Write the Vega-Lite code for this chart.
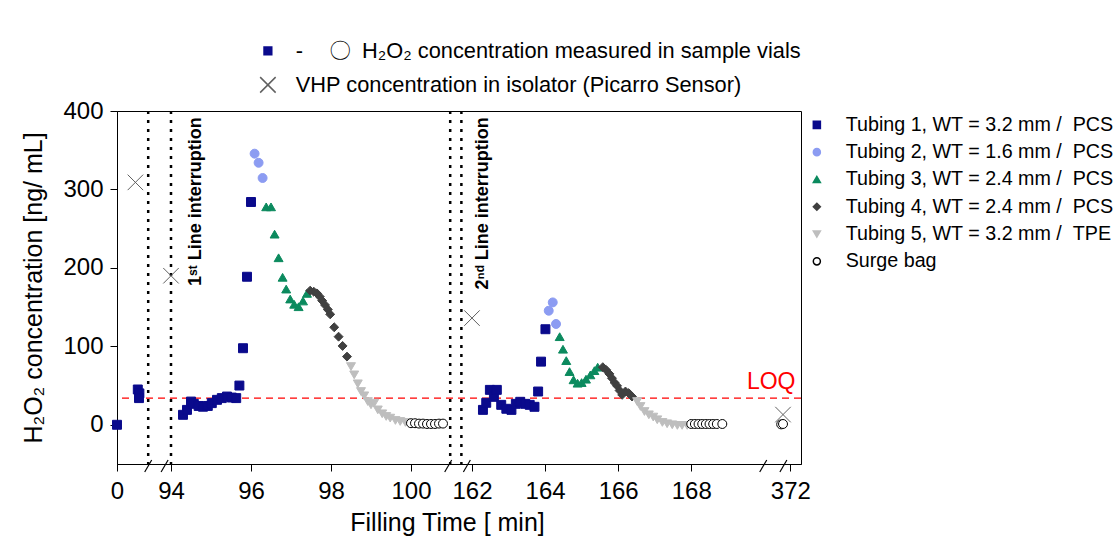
{
  "$schema": "https://vega.github.io/schema/vega-lite/v6.json",
  "width": 684,
  "height": 353,
  "autosize": {"type": "none"},
  "padding": {"left": 117, "top": 111, "right": 315, "bottom": 96},
  "background": "white",
  "config": {
    "font": "Liberation Sans",
    "view": {"stroke": "black", "strokeWidth": 1},
    "axis": {"domainColor": "black", "tickColor": "black", "labelColor": "black", "titleColor": "black", "grid": false, "titleFontWeight": "normal"}
  },
  "datasets": {
    "pts": [
      {"t": 0, "v": 0, "s": "Tubing 1, WT = 3.2 mm / \u00a0PCS"},
      {"t": 0.52, "v": 45, "s": "Tubing 1, WT = 3.2 mm / \u00a0PCS"},
      {"t": 0.56, "v": 40, "s": "Tubing 1, WT = 3.2 mm / \u00a0PCS"},
      {"t": 0.55, "v": 34, "s": "Tubing 1, WT = 3.2 mm / \u00a0PCS"},
      {"t": 94.3, "v": 12.7, "s": "Tubing 1, WT = 3.2 mm / \u00a0PCS"},
      {"t": 94.4, "v": 19, "s": "Tubing 1, WT = 3.2 mm / \u00a0PCS"},
      {"t": 94.5, "v": 29.6, "s": "Tubing 1, WT = 3.2 mm / \u00a0PCS"},
      {"t": 94.57, "v": 26.7, "s": "Tubing 1, WT = 3.2 mm / \u00a0PCS"},
      {"t": 94.69, "v": 24, "s": "Tubing 1, WT = 3.2 mm / \u00a0PCS"},
      {"t": 94.8, "v": 23, "s": "Tubing 1, WT = 3.2 mm / \u00a0PCS"},
      {"t": 94.92, "v": 24, "s": "Tubing 1, WT = 3.2 mm / \u00a0PCS"},
      {"t": 95.02, "v": 27.6, "s": "Tubing 1, WT = 3.2 mm / \u00a0PCS"},
      {"t": 95.15, "v": 31.8, "s": "Tubing 1, WT = 3.2 mm / \u00a0PCS"},
      {"t": 95.27, "v": 34, "s": "Tubing 1, WT = 3.2 mm / \u00a0PCS"},
      {"t": 95.4, "v": 36, "s": "Tubing 1, WT = 3.2 mm / \u00a0PCS"},
      {"t": 95.52, "v": 34.7, "s": "Tubing 1, WT = 3.2 mm / \u00a0PCS"},
      {"t": 95.63, "v": 34, "s": "Tubing 1, WT = 3.2 mm / \u00a0PCS"},
      {"t": 95.71, "v": 50, "s": "Tubing 1, WT = 3.2 mm / \u00a0PCS"},
      {"t": 95.8, "v": 97.6, "s": "Tubing 1, WT = 3.2 mm / \u00a0PCS"},
      {"t": 95.9, "v": 188.7, "s": "Tubing 1, WT = 3.2 mm / \u00a0PCS"},
      {"t": 96.0, "v": 284, "s": "Tubing 1, WT = 3.2 mm / \u00a0PCS"},
      {"t": 162.3, "v": 19, "s": "Tubing 1, WT = 3.2 mm / \u00a0PCS"},
      {"t": 162.39, "v": 28, "s": "Tubing 1, WT = 3.2 mm / \u00a0PCS"},
      {"t": 162.49, "v": 44.5, "s": "Tubing 1, WT = 3.2 mm / \u00a0PCS"},
      {"t": 162.6, "v": 35.6, "s": "Tubing 1, WT = 3.2 mm / \u00a0PCS"},
      {"t": 162.68, "v": 44.5, "s": "Tubing 1, WT = 3.2 mm / \u00a0PCS"},
      {"t": 162.8, "v": 25.4, "s": "Tubing 1, WT = 3.2 mm / \u00a0PCS"},
      {"t": 162.94, "v": 20.4, "s": "Tubing 1, WT = 3.2 mm / \u00a0PCS"},
      {"t": 163.08, "v": 19, "s": "Tubing 1, WT = 3.2 mm / \u00a0PCS"},
      {"t": 163.2, "v": 26.7, "s": "Tubing 1, WT = 3.2 mm / \u00a0PCS"},
      {"t": 163.32, "v": 29.3, "s": "Tubing 1, WT = 3.2 mm / \u00a0PCS"},
      {"t": 163.46, "v": 26.7, "s": "Tubing 1, WT = 3.2 mm / \u00a0PCS"},
      {"t": 163.58, "v": 25.4, "s": "Tubing 1, WT = 3.2 mm / \u00a0PCS"},
      {"t": 163.71, "v": 22.9, "s": "Tubing 1, WT = 3.2 mm / \u00a0PCS"},
      {"t": 163.81, "v": 42.4, "s": "Tubing 1, WT = 3.2 mm / \u00a0PCS"},
      {"t": 163.89, "v": 80.5, "s": "Tubing 1, WT = 3.2 mm / \u00a0PCS"},
      {"t": 164.01, "v": 121.8, "s": "Tubing 1, WT = 3.2 mm / \u00a0PCS"},
      {"t": 96.09, "v": 345.6, "s": "Tubing 2, WT = 1.6 mm / \u00a0PCS"},
      {"t": 96.19, "v": 334, "s": "Tubing 2, WT = 1.6 mm / \u00a0PCS"},
      {"t": 96.29, "v": 314.6, "s": "Tubing 2, WT = 1.6 mm / \u00a0PCS"},
      {"t": 164.1, "v": 145.4, "s": "Tubing 2, WT = 1.6 mm / \u00a0PCS"},
      {"t": 164.21, "v": 156, "s": "Tubing 2, WT = 1.6 mm / \u00a0PCS"},
      {"t": 164.3, "v": 128.5, "s": "Tubing 2, WT = 1.6 mm / \u00a0PCS"},
      {"t": 96.38, "v": 277.8, "s": "Tubing 3, WT = 2.4 mm / \u00a0PCS"},
      {"t": 96.5, "v": 277.8, "s": "Tubing 3, WT = 2.4 mm / \u00a0PCS"},
      {"t": 96.59, "v": 243, "s": "Tubing 3, WT = 2.4 mm / \u00a0PCS"},
      {"t": 96.69, "v": 212.9, "s": "Tubing 3, WT = 2.4 mm / \u00a0PCS"},
      {"t": 96.79, "v": 188, "s": "Tubing 3, WT = 2.4 mm / \u00a0PCS"},
      {"t": 96.88, "v": 173, "s": "Tubing 3, WT = 2.4 mm / \u00a0PCS"},
      {"t": 96.98, "v": 160.3, "s": "Tubing 3, WT = 2.4 mm / \u00a0PCS"},
      {"t": 97.08, "v": 153.6, "s": "Tubing 3, WT = 2.4 mm / \u00a0PCS"},
      {"t": 97.19, "v": 150.5, "s": "Tubing 3, WT = 2.4 mm / \u00a0PCS"},
      {"t": 97.3, "v": 157.8, "s": "Tubing 3, WT = 2.4 mm / \u00a0PCS"},
      {"t": 97.4, "v": 167.5, "s": "Tubing 3, WT = 2.4 mm / \u00a0PCS"},
      {"t": 164.4, "v": 112.3, "s": "Tubing 3, WT = 2.4 mm / \u00a0PCS"},
      {"t": 164.49, "v": 96.3, "s": "Tubing 3, WT = 2.4 mm / \u00a0PCS"},
      {"t": 164.58, "v": 81.8, "s": "Tubing 3, WT = 2.4 mm / \u00a0PCS"},
      {"t": 164.67, "v": 67.8, "s": "Tubing 3, WT = 2.4 mm / \u00a0PCS"},
      {"t": 164.78, "v": 57.3, "s": "Tubing 3, WT = 2.4 mm / \u00a0PCS"},
      {"t": 164.89, "v": 53, "s": "Tubing 3, WT = 2.4 mm / \u00a0PCS"},
      {"t": 165.0, "v": 53.8, "s": "Tubing 3, WT = 2.4 mm / \u00a0PCS"},
      {"t": 165.12, "v": 58.1, "s": "Tubing 3, WT = 2.4 mm / \u00a0PCS"},
      {"t": 165.24, "v": 63.6, "s": "Tubing 3, WT = 2.4 mm / \u00a0PCS"},
      {"t": 165.35, "v": 69, "s": "Tubing 3, WT = 2.4 mm / \u00a0PCS"},
      {"t": 165.44, "v": 73.4, "s": "Tubing 3, WT = 2.4 mm / \u00a0PCS"},
      {"t": 97.48, "v": 171, "s": "Tubing 4, WT = 2.4 mm / \u00a0PCS"},
      {"t": 97.57, "v": 169.6, "s": "Tubing 4, WT = 2.4 mm / \u00a0PCS"},
      {"t": 97.65, "v": 167.5, "s": "Tubing 4, WT = 2.4 mm / \u00a0PCS"},
      {"t": 97.72, "v": 163.3, "s": "Tubing 4, WT = 2.4 mm / \u00a0PCS"},
      {"t": 97.78, "v": 158.2, "s": "Tubing 4, WT = 2.4 mm / \u00a0PCS"},
      {"t": 97.85, "v": 152.7, "s": "Tubing 4, WT = 2.4 mm / \u00a0PCS"},
      {"t": 97.92, "v": 147, "s": "Tubing 4, WT = 2.4 mm / \u00a0PCS"},
      {"t": 97.98, "v": 140.8, "s": "Tubing 4, WT = 2.4 mm / \u00a0PCS"},
      {"t": 98.08, "v": 124.3, "s": "Tubing 4, WT = 2.4 mm / \u00a0PCS"},
      {"t": 98.19, "v": 112.3, "s": "Tubing 4, WT = 2.4 mm / \u00a0PCS"},
      {"t": 98.29, "v": 100.5, "s": "Tubing 4, WT = 2.4 mm / \u00a0PCS"},
      {"t": 98.4, "v": 86.9, "s": "Tubing 4, WT = 2.4 mm / \u00a0PCS"},
      {"t": 165.58, "v": 73.4, "s": "Tubing 4, WT = 2.4 mm / \u00a0PCS"},
      {"t": 165.67, "v": 70, "s": "Tubing 4, WT = 2.4 mm / \u00a0PCS"},
      {"t": 165.76, "v": 64.9, "s": "Tubing 4, WT = 2.4 mm / \u00a0PCS"},
      {"t": 165.83, "v": 59.4, "s": "Tubing 4, WT = 2.4 mm / \u00a0PCS"},
      {"t": 165.9, "v": 53.8, "s": "Tubing 4, WT = 2.4 mm / \u00a0PCS"},
      {"t": 165.97, "v": 49.6, "s": "Tubing 4, WT = 2.4 mm / \u00a0PCS"},
      {"t": 166.04, "v": 43.6, "s": "Tubing 4, WT = 2.4 mm / \u00a0PCS"},
      {"t": 166.11, "v": 38.2, "s": "Tubing 4, WT = 2.4 mm / \u00a0PCS"},
      {"t": 166.2, "v": 42.4, "s": "Tubing 4, WT = 2.4 mm / \u00a0PCS"},
      {"t": 166.29, "v": 40.3, "s": "Tubing 4, WT = 2.4 mm / \u00a0PCS"},
      {"t": 166.38, "v": 36, "s": "Tubing 4, WT = 2.4 mm / \u00a0PCS"},
      {"t": 98.5, "v": 74.2, "s": "Tubing 5, WT = 3.2 mm / \u00a0TPE"},
      {"t": 98.58, "v": 63.6, "s": "Tubing 5, WT = 3.2 mm / \u00a0TPE"},
      {"t": 98.67, "v": 52.2, "s": "Tubing 5, WT = 3.2 mm / \u00a0TPE"},
      {"t": 98.75, "v": 42.4, "s": "Tubing 5, WT = 3.2 mm / \u00a0TPE"},
      {"t": 98.83, "v": 36.9, "s": "Tubing 5, WT = 3.2 mm / \u00a0TPE"},
      {"t": 98.92, "v": 29.6, "s": "Tubing 5, WT = 3.2 mm / \u00a0TPE"},
      {"t": 99.0, "v": 25.4, "s": "Tubing 5, WT = 3.2 mm / \u00a0TPE"},
      {"t": 99.08, "v": 27.6, "s": "Tubing 5, WT = 3.2 mm / \u00a0TPE"},
      {"t": 99.17, "v": 19, "s": "Tubing 5, WT = 3.2 mm / \u00a0TPE"},
      {"t": 99.28, "v": 14, "s": "Tubing 5, WT = 3.2 mm / \u00a0TPE"},
      {"t": 99.38, "v": 10.6, "s": "Tubing 5, WT = 3.2 mm / \u00a0TPE"},
      {"t": 99.48, "v": 8.5, "s": "Tubing 5, WT = 3.2 mm / \u00a0TPE"},
      {"t": 99.61, "v": 5.5, "s": "Tubing 5, WT = 3.2 mm / \u00a0TPE"},
      {"t": 99.73, "v": 4.2, "s": "Tubing 5, WT = 3.2 mm / \u00a0TPE"},
      {"t": 99.86, "v": 3, "s": "Tubing 5, WT = 3.2 mm / \u00a0TPE"},
      {"t": 166.52, "v": 29.6, "s": "Tubing 5, WT = 3.2 mm / \u00a0TPE"},
      {"t": 166.61, "v": 23.3, "s": "Tubing 5, WT = 3.2 mm / \u00a0TPE"},
      {"t": 166.72, "v": 16.9, "s": "Tubing 5, WT = 3.2 mm / \u00a0TPE"},
      {"t": 166.84, "v": 12.7, "s": "Tubing 5, WT = 3.2 mm / \u00a0TPE"},
      {"t": 166.96, "v": 9.8, "s": "Tubing 5, WT = 3.2 mm / \u00a0TPE"},
      {"t": 167.07, "v": 6.4, "s": "Tubing 5, WT = 3.2 mm / \u00a0TPE"},
      {"t": 167.21, "v": 3, "s": "Tubing 5, WT = 3.2 mm / \u00a0TPE"},
      {"t": 167.34, "v": 1.3, "s": "Tubing 5, WT = 3.2 mm / \u00a0TPE"},
      {"t": 167.48, "v": 0, "s": "Tubing 5, WT = 3.2 mm / \u00a0TPE"},
      {"t": 167.62, "v": -0.8, "s": "Tubing 5, WT = 3.2 mm / \u00a0TPE"},
      {"t": 167.75, "v": -0.8, "s": "Tubing 5, WT = 3.2 mm / \u00a0TPE"},
      {"t": 167.89, "v": -0.8, "s": "Tubing 5, WT = 3.2 mm / \u00a0TPE"},
      {"t": 100.0, "v": 2, "s": "Surge bag"},
      {"t": 100.1, "v": 2, "s": "Surge bag"},
      {"t": 100.2, "v": 1.5, "s": "Surge bag"},
      {"t": 100.3, "v": 1.5, "s": "Surge bag"},
      {"t": 100.4, "v": 1, "s": "Surge bag"},
      {"t": 100.5, "v": 1, "s": "Surge bag"},
      {"t": 100.6, "v": 1, "s": "Surge bag"},
      {"t": 100.7, "v": 1.5, "s": "Surge bag"},
      {"t": 100.8, "v": 1.5, "s": "Surge bag"},
      {"t": 168.0, "v": 1, "s": "Surge bag"},
      {"t": 168.1, "v": 1, "s": "Surge bag"},
      {"t": 168.2, "v": 1, "s": "Surge bag"},
      {"t": 168.3, "v": 1, "s": "Surge bag"},
      {"t": 168.4, "v": 1, "s": "Surge bag"},
      {"t": 168.5, "v": 1, "s": "Surge bag"},
      {"t": 168.6, "v": 1, "s": "Surge bag"},
      {"t": 168.7, "v": 1, "s": "Surge bag"},
      {"t": 168.85, "v": 1, "s": "Surge bag"},
      {"t": 371.75, "v": 0.5, "s": "Surge bag"},
      {"t": 371.8, "v": 1, "s": "Surge bag"}
    ],
    "vhp": [
      {"t": 0.46, "v": 309, "src": "VHP concentration in isolator (Picarro Sensor)"},
      {"t": 94.0, "v": 190, "src": "VHP concentration in isolator (Picarro Sensor)"},
      {"t": 162.0, "v": 136, "src": "VHP concentration in isolator (Picarro Sensor)"},
      {"t": 371.8, "v": 13, "src": "VHP concentration in isolator (Picarro Sensor)"}
    ]
  },
  "layer": [
    {
      "data": {"values": [{"v": 34}]},
      "mark": {"type": "rule", "color": "#FF0000", "strokeDash": [7, 5], "strokeWidth": 1.3},
      "encoding": {
        "y": {"field": "v", "type": "quantitative", "scale": {"domain": [-50, 400], "nice": false, "zero": false}}
      }
    },
    {
      "data": {"values": [{"t": 0.78}, {"t": 94}, {"t": 100.98}, {"t": 161.71}]},
      "mark": {"type": "rule", "color": "black", "strokeDash": [3, 6], "strokeWidth": 2.5},
      "encoding": {
        "x": {"field": "t", "type": "quantitative", "scale": {"domain": [0, 1.0, 93.65, 101.15, 161.59, 170.21, 371.5, 372.29], "range": [0, 40, 40, 340, 340, 655, 655, 684], "nice": false, "zero": false}}
      }
    },
    {
      "data": {"name": "pts"},
      "mark": {"type": "point", "filled": true, "size": 80, "strokeWidth": 1, "opacity": 1},
      "encoding": {
        "x": {"field": "t", "type": "quantitative", "scale": {"domain": [0, 1.0, 93.65, 101.15, 161.59, 170.21, 371.5, 372.29], "range": [0, 40, 40, 340, 340, 655, 655, 684], "nice": false, "zero": false},
          "axis": {"title": "Filling Time [ min]", "values": [0, 94, 96, 98, 100, 162, 164, 166, 168, 372], "labelFontSize": 24, "titleFontSize": 25, "tickSize": 7, "labelPadding": 8, "titlePadding": 7, "titleX": 330, "labelFlush": false}},
        "y": {"field": "v", "type": "quantitative", "scale": {"domain": [-50, 400], "nice": false, "zero": false},
          "axis": {"title": "H\u2082O\u2082 concentration [ng/ mL]", "values": [0, 100, 200, 300, 400], "labelFontSize": 24, "titleFontSize": 25, "tickSize": 7, "labelPadding": 7, "titlePadding": 16}},
        "shape": {"field": "s", "type": "nominal",
          "scale": {"domain": ["Tubing 1, WT = 3.2 mm / \u00a0PCS", "Tubing 2, WT = 1.6 mm / \u00a0PCS", "Tubing 3, WT = 2.4 mm / \u00a0PCS", "Tubing 4, WT = 2.4 mm / \u00a0PCS", "Tubing 5, WT = 3.2 mm / \u00a0TPE", "Surge bag"],
            "range": ["square", "circle", "triangle-up", "diamond", "triangle-down", "circle"]},
          "legend": {"title": null, "orient": "none", "legendX": 690, "legendY": 4, "padding": 0, "labelFontSize": 19.7, "symbolSize": 50, "rowPadding": 6.3, "labelOffset": 19, "labelLimit": 400, "labelColor": "black"}},
        "fill": {"field": "s", "type": "nominal",
          "scale": {"domain": ["Tubing 1, WT = 3.2 mm / \u00a0PCS", "Tubing 2, WT = 1.6 mm / \u00a0PCS", "Tubing 3, WT = 2.4 mm / \u00a0PCS", "Tubing 4, WT = 2.4 mm / \u00a0PCS", "Tubing 5, WT = 3.2 mm / \u00a0TPE", "Surge bag"],
            "range": ["#0A0A8C", "#8C9CF2", "#0B8A5E", "#404040", "#BEBEBE", "#FFFFFF"]},
          "legend": {"title": null, "orient": "none", "legendX": 690, "legendY": 4, "padding": 0, "labelFontSize": 19.7, "symbolSize": 50, "rowPadding": 6.3, "labelOffset": 19, "labelLimit": 400, "labelColor": "black"}},
        "stroke": {"field": "s", "type": "nominal",
          "scale": {"domain": ["Tubing 1, WT = 3.2 mm / \u00a0PCS", "Tubing 2, WT = 1.6 mm / \u00a0PCS", "Tubing 3, WT = 2.4 mm / \u00a0PCS", "Tubing 4, WT = 2.4 mm / \u00a0PCS", "Tubing 5, WT = 3.2 mm / \u00a0TPE", "Surge bag"],
            "range": ["#0A0A8C", "#8C9CF2", "#0B8A5E", "#404040", "#BEBEBE", "#000000"]},
          "legend": {"title": null, "orient": "none", "legendX": 690, "legendY": 4, "padding": 0, "labelFontSize": 19.7, "symbolSize": 50, "rowPadding": 6.3, "labelOffset": 19, "labelLimit": 400, "labelColor": "black"}}
      }
    },
    {
      "data": {"name": "vhp"},
      "mark": {"type": "point", "filled": true, "size": 60, "strokeWidth": 1, "opacity": 1},
      "encoding": {
        "x": {"field": "t", "type": "quantitative", "scale": {"domain": [0, 1.0, 93.65, 101.15, 161.59, 170.21, 371.5, 372.29], "range": [0, 40, 40, 340, 340, 655, 655, 684], "nice": false, "zero": false}},
        "y": {"field": "v", "type": "quantitative", "scale": {"domain": [-50, 400], "nice": false, "zero": false}},
        "shape": {"field": "src", "type": "nominal",
          "scale": {"domain": ["-\u2003\u2009\u3007\u2002H\u2082O\u2082 concentration measured in sample vials", "VHP concentration in isolator (Picarro Sensor)"], "range": ["square", "M-2,-2L2,2M-2,2L2,-2"]},
          "legend": {"title": null, "orient": "none", "legendX": 140, "legendY": -71, "padding": 0, "labelFontSize": 21.8, "symbolSize": 60, "rowPadding": 11, "labelOffset": 17, "labelLimit": 800, "labelColor": "black"}},
        "fill": {"field": "src", "type": "nominal",
          "scale": {"domain": ["-\u2003\u2009\u3007\u2002H\u2082O\u2082 concentration measured in sample vials", "VHP concentration in isolator (Picarro Sensor)"], "range": ["#0A0A8C", "transparent"]},
          "legend": {"title": null, "orient": "none", "legendX": 140, "legendY": -71, "padding": 0, "labelFontSize": 21.8, "symbolSize": 60, "rowPadding": 11, "labelOffset": 17, "labelLimit": 800, "labelColor": "black"}},
        "stroke": {"field": "src", "type": "nominal",
          "scale": {"domain": ["-\u2003\u2009\u3007\u2002H\u2082O\u2082 concentration measured in sample vials", "VHP concentration in isolator (Picarro Sensor)"], "range": ["#0A0A8C", "#606060"]},
          "legend": {"title": null, "orient": "none", "legendX": 140, "legendY": -71, "padding": 0, "labelFontSize": 21.8, "symbolSize": 60, "rowPadding": 11, "labelOffset": 17, "labelLimit": 800, "labelColor": "black"}}
      }
    },
    {
      "data": {"values": [{"t": 0.78, "v": -50}, {"t": 93.84, "v": -50}, {"t": 100.93, "v": -50}, {"t": 161.86, "v": -50}, {"t": 169.97, "v": -50}, {"t": 371.81, "v": -50}]},
      "mark": {"type": "point", "shape": "M-0.5,0.85L0.5,-0.85", "size": 196, "filled": false, "stroke": "black", "strokeWidth": 1.2, "opacity": 1, "yOffset": 2},
      "encoding": {
        "x": {"field": "t", "type": "quantitative", "scale": {"domain": [0, 1.0, 93.65, 101.15, 161.59, 170.21, 371.5, 372.29], "range": [0, 40, 40, 340, 340, 655, 655, 684], "nice": false, "zero": false}},
        "y": {"field": "v", "type": "quantitative", "scale": {"domain": [-50, 400], "nice": false, "zero": false}}
      }
    },
    {
      "data": {"values": [{"t": 94.63, "v": 392, "label": "1\u02E2\u1D57 Line interruption"}, {"t": 162.31, "v": 392, "label": "2\u207F\u1D48 Line interruption"}]},
      "mark": {"type": "text", "angle": 270, "align": "right", "baseline": "middle", "fontWeight": "bold", "fontSize": 18, "color": "black"},
      "encoding": {
        "x": {"field": "t", "type": "quantitative", "scale": {"domain": [0, 1.0, 93.65, 101.15, 161.59, 170.21, 371.5, 372.29], "range": [0, 40, 40, 340, 340, 655, 655, 684], "nice": false, "zero": false}},
        "y": {"field": "v", "type": "quantitative", "scale": {"domain": [-50, 400], "nice": false, "zero": false}},
        "text": {"field": "label"}
      }
    },
    {
      "data": {"values": [{"t": 372.14, "v": 46, "label": "LOQ"}]},
      "mark": {"type": "text", "align": "right", "baseline": "alphabetic", "fontSize": 23, "color": "#FF0000"},
      "encoding": {
        "x": {"field": "t", "type": "quantitative", "scale": {"domain": [0, 1.0, 93.65, 101.15, 161.59, 170.21, 371.5, 372.29], "range": [0, 40, 40, 340, 340, 655, 655, 684], "nice": false, "zero": false}},
        "y": {"field": "v", "type": "quantitative", "scale": {"domain": [-50, 400], "nice": false, "zero": false}},
        "text": {"field": "label"}
      }
    }
  ],
  "resolve": {
    "scale": {"shape": "independent", "fill": "independent", "stroke": "independent"},
    "legend": {"shape": "independent", "fill": "independent", "stroke": "independent"}
  }
}
